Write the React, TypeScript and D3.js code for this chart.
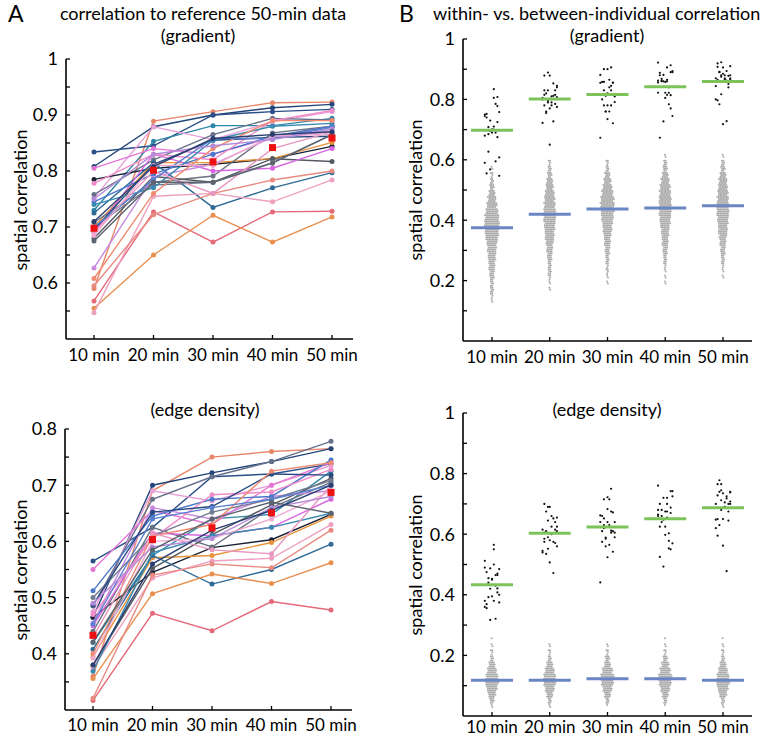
import React from 'react';
import * as d3 from 'd3';

const FONT = "Lato, 'Open Sans', sans-serif";

const times = [10, 20, 30, 40, 50];
const timeLabels = ['10 min', '20 min', '30 min', '40 min', '50 min'];

const subjectColors = [
  '#e8866a', '#23467a', '#2b4f86', '#2f88a8', '#e9a0d8', '#66708a', '#1b2236', '#e8923c', '#6b7280', '#555a62',
  '#2f6b96', '#e477d6', '#e46a7a', '#e89050', '#eea0c0', '#e98a80', '#d966e0', '#c98ae0', '#4a78c8', '#f08cc8',
  '#707a90', '#264a80', '#3a8ab0', '#f08a70', '#e898c0', '#5a80d0', '#f0a8d0', '#b48ad8', '#5c6470', '#2a3f70',
];

// correlation to reference 50-min data (gradient), one row per individual
const gradientData = [
  [0.59, 0.889, 0.906, 0.922, 0.923],
  [0.808, 0.879, 0.9, 0.913, 0.919],
  [0.834, 0.845, 0.9, 0.906, 0.91],
  [0.73, 0.853, 0.881, 0.881, 0.894],
  [0.752, 0.879, 0.856, 0.888, 0.906],
  [0.758, 0.82, 0.865, 0.894, 0.891],
  [0.785, 0.805, 0.812, 0.822, 0.844],
  [0.7, 0.815, 0.815, 0.822, 0.851],
  [0.708, 0.78, 0.791, 0.868, 0.88],
  [0.68, 0.79, 0.78, 0.822, 0.817],
  [0.725, 0.815, 0.735, 0.77, 0.797],
  [0.805, 0.84, 0.83, 0.86, 0.88],
  [0.568, 0.727, 0.673, 0.727, 0.728],
  [0.555, 0.65, 0.721, 0.673, 0.718],
  [0.547, 0.755, 0.76, 0.745, 0.784],
  [0.595, 0.722, 0.76, 0.784, 0.8],
  [0.69, 0.83, 0.8, 0.805, 0.84],
  [0.627, 0.79, 0.812, 0.86, 0.87],
  [0.745, 0.795, 0.83, 0.862, 0.88],
  [0.778, 0.83, 0.82, 0.89, 0.908],
  [0.7, 0.775, 0.78, 0.815, 0.865],
  [0.695, 0.812, 0.855, 0.86, 0.862],
  [0.74, 0.77, 0.855, 0.88, 0.885],
  [0.608, 0.76, 0.84, 0.89, 0.89],
  [0.69, 0.8, 0.76, 0.84, 0.87],
  [0.7, 0.785, 0.858, 0.858, 0.878],
  [0.685, 0.81, 0.81, 0.862, 0.866],
  [0.75, 0.83, 0.845, 0.856, 0.875],
  [0.675, 0.78, 0.78, 0.814, 0.865],
  [0.71, 0.808, 0.858, 0.865, 0.87],
];

// correlation to reference 50-min data (edge density)
const edgeData = [
  [0.36, 0.69, 0.75, 0.76, 0.765],
  [0.465, 0.7, 0.722, 0.742, 0.765],
  [0.565, 0.625, 0.715, 0.72, 0.738],
  [0.42, 0.575, 0.64, 0.648, 0.725],
  [0.475, 0.69, 0.672, 0.7, 0.735],
  [0.485, 0.675, 0.715, 0.742, 0.778],
  [0.465, 0.545, 0.589, 0.603, 0.648],
  [0.395, 0.571, 0.575, 0.598, 0.645],
  [0.44, 0.625, 0.59, 0.66, 0.705],
  [0.38, 0.552, 0.612, 0.665, 0.712],
  [0.408, 0.575, 0.524, 0.55, 0.595],
  [0.55, 0.655, 0.63, 0.7, 0.74],
  [0.317, 0.472, 0.441, 0.493, 0.478],
  [0.356, 0.507, 0.542, 0.525, 0.562],
  [0.375, 0.535, 0.565, 0.57, 0.63],
  [0.321, 0.54, 0.56, 0.553, 0.62],
  [0.45, 0.615, 0.61, 0.625, 0.675],
  [0.455, 0.66, 0.64, 0.68, 0.69],
  [0.512, 0.645, 0.675, 0.68, 0.745],
  [0.47, 0.605, 0.683, 0.688, 0.728],
  [0.5, 0.61, 0.652, 0.675, 0.708],
  [0.487, 0.652, 0.662, 0.72, 0.718],
  [0.369, 0.58, 0.61, 0.625, 0.65],
  [0.4, 0.61, 0.63, 0.725, 0.74],
  [0.43, 0.615, 0.585, 0.578, 0.7],
  [0.453, 0.64, 0.66, 0.675, 0.7],
  [0.392, 0.6, 0.605, 0.64, 0.69],
  [0.49, 0.59, 0.605, 0.66, 0.68],
  [0.421, 0.585, 0.64, 0.67, 0.65],
  [0.38, 0.56, 0.62, 0.655, 0.7],
];

// between-individual correlations: counts per 0.02 bin, starting at the given value
const binWidth = 0.02;
const gradBetweenStart = [0.12, 0.16, 0.18, 0.18, 0.2];
const gradBetweenCounts = [
  [2, 4, 6, 6, 8, 10, 12, 14, 16, 18, 22, 26, 28, 30, 28, 24, 20, 16, 12, 8, 6, 4, 2],
  [2, 2, 4, 6, 6, 8, 10, 12, 16, 18, 20, 22, 24, 24, 22, 20, 18, 14, 12, 8, 6, 4],
  [2, 2, 4, 4, 6, 8, 10, 12, 14, 18, 20, 24, 26, 28, 26, 22, 18, 14, 10, 6, 4],
  [2, 2, 2, 4, 6, 8, 10, 12, 14, 16, 20, 22, 24, 24, 24, 22, 20, 16, 12, 8, 6, 2],
  [2, 2, 4, 6, 8, 10, 12, 16, 18, 20, 22, 24, 24, 22, 20, 18, 16, 12, 8, 6, 2],
];
const gradBetweenMean = [0.375, 0.42, 0.437, 0.44, 0.448];

const edgeBetweenStart = [0.02, 0.02, 0.02, 0.02, 0.02];
const edgeBetweenCounts = [
  [2, 8, 14, 20, 26, 24, 18, 12, 6, 4, 2, 1],
  [2, 6, 12, 18, 24, 24, 18, 12, 6, 4, 2, 0],
  [1, 6, 12, 18, 24, 26, 20, 12, 8, 4, 2, 0],
  [1, 6, 12, 18, 24, 26, 20, 14, 8, 4, 2, 1],
  [2, 6, 14, 20, 26, 24, 18, 12, 6, 4, 2, 1],
];
const edgeBetweenMean = [0.118, 0.118, 0.123, 0.123, 0.118];

const gradTicks = [0.6, 0.7, 0.8, 0.9, 1];
const gradMinor = [0.55, 0.65, 0.75, 0.85, 0.95];
const edgeTicks = [0.4, 0.5, 0.6, 0.7, 0.8];
const edgeMinor = [0.35, 0.45, 0.55, 0.65, 0.75];
const bTicks = [0.2, 0.4, 0.6, 0.8, 1];
const bMinor = [0.1, 0.3, 0.5, 0.7, 0.9];

const fmt = (v: number) => (v === 1 ? '1' : d3.format('.1f')(v));

function Axes({ x, y, axisX, axisEnd, yBottom, yTopVal, majors, minors, labelOffset }: any) {
  return (
    <g>
      <line x1={axisX} x2={axisX} y1={y(yTopVal)} y2={yBottom} stroke="#000" strokeWidth={1.6} />
      <line x1={axisX} x2={axisEnd} y1={yBottom} y2={yBottom} stroke="#000" strokeWidth={1.6} />
      {majors.map((v: number) => (
        <g key={'M' + v}>
          <line x1={axisX} x2={axisX + 4} y1={y(v)} y2={y(v)} stroke="#000" strokeWidth={1.3} />
          <text x={axisX - 8} y={y(v)} dy="0.36em" textAnchor="end" fontSize={18} fontFamily={FONT}>
            {fmt(v)}
          </text>
        </g>
      ))}
      {minors.map((v: number) => (
        <line key={'m' + v} x1={axisX} x2={axisX + 4} y1={y(v)} y2={y(v)} stroke="#000" strokeWidth={1.3} />
      ))}
      {times.map((t, i) => (
        <g key={'x' + t}>
          <line x1={x(t)} x2={x(t)} y1={yBottom} y2={yBottom - 4} stroke="#000" strokeWidth={1.3} />
          <text x={x(t)} y={yBottom + labelOffset} textAnchor="middle" fontSize={17} fontFamily={FONT}>
            {timeLabels[i]}
          </text>
        </g>
      ))}
    </g>
  );
}

function LinePanel({ data, domain, yTop, yBottom, xRange, axisX, axisEnd, majors, minors, labelOffset }: any) {
  const y = d3.scaleLinear().domain(domain).range([yBottom, yTop]);
  const x = d3.scaleLinear().domain([10, 50]).range(xRange);
  const line = d3
    .line<number>()
    .x((_, i) => x(times[i]))
    .y((v) => y(v));
  const means = times.map((_, i) => d3.mean(data, (d: number[]) => d[i]) as number);
  return (
    <g>
      {data.map((row: number[], k: number) => (
        <g key={k}>
          <path d={line(row) || ''} fill="none" stroke={subjectColors[k]} strokeWidth={1.4} />
          {row.map((v, i) => (
            <circle key={i} cx={x(times[i])} cy={y(v)} r={2.5} fill={subjectColors[k]} />
          ))}
        </g>
      ))}
      {means.map((m, i) => (
        <rect key={'mean' + i} x={x(times[i]) - 3.5} y={y(m) - 3.5} width={7} height={7} fill="#ee1111" />
      ))}
      <Axes x={x} y={y} axisX={axisX} axisEnd={axisEnd} yBottom={yBottom} yTopVal={domain[1]} majors={majors} minors={minors} labelOffset={labelOffset} />
    </g>
  );
}

function SwarmPanel({ within, starts, counts, betweenMean, yTop, yBottom, xRange, axisX, axisEnd, labelOffset }: any) {
  const y = d3.scaleLinear().domain([0, 1]).range([yBottom, yTop]);
  const x = d3.scaleLinear().domain([10, 50]).range(xRange);
  const withinMeans = times.map((_, i) => d3.mean(within, (d: number[]) => d[i]) as number);
  const grey: { cx: number; cy: number }[] = [];
  counts.forEach((bins: number[], ti: number) => {
    const cx0 = x(times[ti]);
    bins.forEach((c: number, bi: number) => {
      const lo = starts[ti] + bi * binWidth;
      const yLo = y(lo);
      const yHi = y(lo + binWidth);
      const rows = 3;
      const rh = (yLo - yHi) / rows;
      for (let r = 0; r < rows; r++) {
        const n = Math.floor((c + r) / rows);
        const cy = yLo - rh * (r + 0.5);
        const shift = r % 2 === 0 ? -0.4 : 0.4;
        for (let j = 0; j < n; j++) {
          grey.push({ cx: cx0 + (j - (n - 1) / 2) * 1.5 + shift, cy });
        }
      }
    });
  });
  return (
    <g>
      {grey.map((p, i) => (
        <circle key={'g' + i} cx={p.cx} cy={p.cy} r={1.0} fill="#ababab" />
      ))}
      {times.map((t, ti) =>
        within.map((row: number[], k: number) => (
          <circle
            key={'b' + ti + '-' + k}
            cx={x(t) + (((k * 7 + ti * 3) % 9) - 4) * 1.8}
            cy={y(row[ti])}
            r={1.1}
            fill="#111"
          />
        ))
      )}
      {times.map((t, ti) => (
        <g key={'ml' + t}>
          <line x1={x(t) - 21} x2={x(t) + 21} y1={y(betweenMean[ti])} y2={y(betweenMean[ti])} stroke="#6a86c4" strokeWidth={3} />
          <line x1={x(t) - 21} x2={x(t) + 21} y1={y(withinMeans[ti])} y2={y(withinMeans[ti])} stroke="#7cc45a" strokeWidth={3} />
        </g>
      ))}
      <Axes x={x} y={y} axisX={axisX} axisEnd={axisEnd} yBottom={yBottom} yTopVal={1} majors={bTicks} minors={bMinor} labelOffset={labelOffset} />
    </g>
  );
}

function YLabel({ x, y }: { x: number; y: number }) {
  return (
    <text transform={`translate(${x},${y}) rotate(-90)`} textAnchor="middle" fontSize={18} fontFamily={FONT}>
      spatial correlation
    </text>
  );
}

export default function App() {
  return (
    <svg width={778} height={738} style={{ position: 'absolute', left: 0, top: 0, background: '#fff' }}>
      <text x={8} y={22} fontSize={23} fontFamily={FONT}>A</text>
      <text x={203} y={20} textAnchor="middle" fontSize={18} fontFamily={FONT}>correlation to reference 50-min data</text>
      <text x={198} y={42} textAnchor="middle" fontSize={18} fontFamily={FONT}>(gradient)</text>
      <text x={399} y={22} fontSize={23} fontFamily={FONT}>B</text>
      <text x={433} y={20} fontSize={18} fontFamily={FONT}>within- vs. between-individual correlation</text>
      <text x={607} y={42} textAnchor="middle" fontSize={18} fontFamily={FONT}>(gradient)</text>
      <text x={205} y={416} textAnchor="middle" fontSize={18} fontFamily={FONT}>(edge density)</text>
      <text x={607} y={416} textAnchor="middle" fontSize={18} fontFamily={FONT}>(edge density)</text>

      <YLabel x={27} y={200} />
      <YLabel x={27} y={570} />
      <YLabel x={422} y={190} />
      <YLabel x={422} y={565} />

      <LinePanel data={gradientData} domain={[0.5, 1]} yTop={59} yBottom={339} xRange={[94, 332]} axisX={66} axisEnd={353}
        majors={gradTicks} minors={gradMinor} labelOffset={22} />
      <LinePanel data={edgeData} domain={[0.3, 0.8]} yTop={429} yBottom={710} xRange={[93, 331]} axisX={65} axisEnd={352}
        majors={edgeTicks} minors={edgeMinor} labelOffset={21} />

      <SwarmPanel within={gradientData} starts={gradBetweenStart} counts={gradBetweenCounts} betweenMean={gradBetweenMean}
        yTop={39} yBottom={341} xRange={[492, 723]} axisX={463} axisEnd={752} labelOffset={22} />
      <SwarmPanel within={edgeData} starts={edgeBetweenStart} counts={edgeBetweenCounts} betweenMean={edgeBetweenMean}
        yTop={413} yBottom={716} xRange={[492, 723]} axisX={463} axisEnd={752} labelOffset={17} />
    </svg>
  );
}
